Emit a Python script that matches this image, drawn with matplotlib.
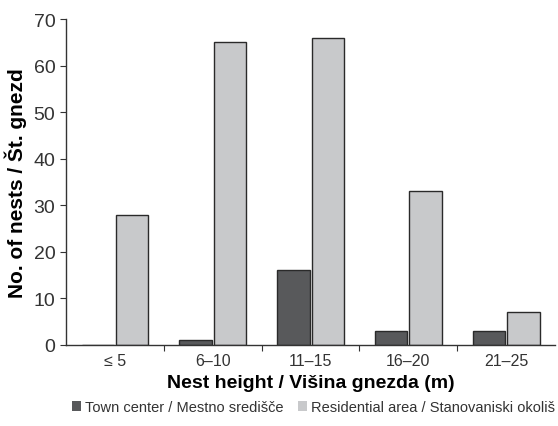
import numpy as np
import matplotlib
matplotlib.use("Agg")
import matplotlib.pyplot as plt

# categories and counts
categories = ['≤ 5', '6–10', '11–15', '16–20', '21–25']
town_center = [0, 1, 16, 3, 3]
residential = [28, 65, 66, 33, 7]
series_names = ['Town center / Mestno središče', 'Residential area / Stanovaniski okoliš']

plt.rcParams['font.family'] = ['Liberation Sans', 'DejaVu Sans']

fig = plt.figure(figsize=(5.58, 4.27), dpi=100)
ax = fig.add_axes([0.118, 0.19, 0.877, 0.763])

x = np.arange(len(categories))
w = 0.33
ax.bar(x - w / 2 - 0.01, town_center, w, color='#58595b', edgecolor='#2a2a2a', linewidth=1.0,
       label=series_names[0])
ax.bar(x + w / 2 + 0.01, residential, w, color='#c8c9cb', edgecolor='#2a2a2a', linewidth=1.0,
       label=series_names[1])

ax.set_xlim(-0.5, len(categories) - 0.5)
ax.set_ylim(0, 70)
ax.set_yticks(range(0, 71, 10))
ax.set_xticks(x)
ax.set_xticklabels(categories, fontsize=11.5, color='#333333')
ax.set_xticks(np.arange(0.5, len(categories) - 1, 1), minor=True)
ax.tick_params(axis='x', which='major', length=0, pad=6)
ax.tick_params(axis='x', which='minor', length=4, width=0.8, color='#333333')
ax.tick_params(axis='y', labelsize=14, length=4, width=0.8, color='#333333', labelcolor='#333333')
for s in ['top', 'right']:
    ax.spines[s].set_visible(False)
for s in ['left', 'bottom']:
    ax.spines[s].set_color('#333333')
    ax.spines[s].set_linewidth(1.0)

ax.set_xlabel('Nest height / Višina gnezda (m)', fontsize=14, fontweight='bold', labelpad=4)
ax.set_ylabel('No. of nests / Št. gnezd', fontsize=15, fontweight='bold', labelpad=5)

leg = fig.legend(loc='center', bbox_to_anchor=(0.562, 0.044), ncol=2, frameon=False, fontsize=10.5,
                 handlelength=0.6, handleheight=0.6, handletextpad=0.3, columnspacing=1.0,
                 labelcolor='#333333', borderpad=0)
for h in leg.legend_handles:
    h.set_edgecolor('none')

fig.savefig('out.png', dpi=100)
